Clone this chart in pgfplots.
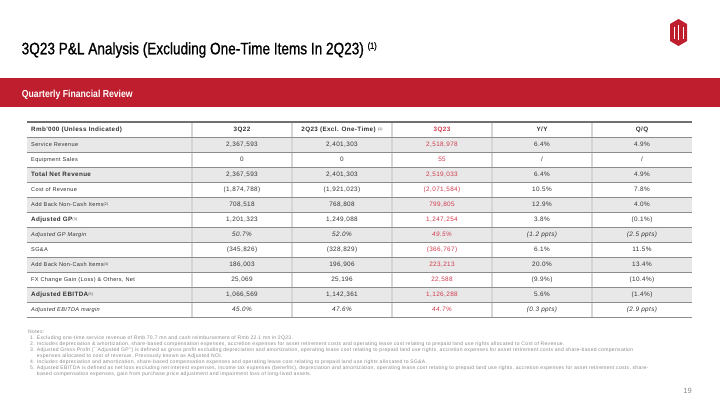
\documentclass[border=0pt]{standalone}
\usepackage{fontspec}
\setmainfont{Liberation Sans}
\newfontfamily\titlefont[FakeStretch=0.82,FakeBold=1.0]{Liberation Sans}
\newfontfamily\bandfont[FakeStretch=0.85]{Liberation Sans}
\newfontfamily\tabfont[LetterSpace=6]{Liberation Sans}
\newfontfamily\notefont[LetterSpace=6]{Liberation Sans}
\usepackage{pgfplots}
\pgfplotsset{compat=1.18}
\definecolor{gdsred}{HTML}{BE1E2D}
\definecolor{valred}{HTML}{D03A4C}
\definecolor{rowgrey}{HTML}{E8E8E8}
\definecolor{linegrey}{HTML}{8C8C8C}
\definecolor{vgrey}{HTML}{D6D6D6}
\definecolor{txt}{HTML}{333333}
\definecolor{notegrey}{HTML}{8A8A8A}
\newcommand{\tabsz}{\tabfont\fontsize{5.6bp}{6.5bp}\selectfont}
\newcommand{\bsz}{\tabfont\bfseries\fontsize{6.3bp}{7bp}\selectfont}
\newcommand{\valsz}{\tabfont\fontsize{6.4bp}{7bp}\selectfont}
\newcommand{\notesz}{\notefont\fontsize{5.05bp}{6bp}\selectfont}
\newcommand{\sups}[1]{\raisebox{1.3bp}{\fontsize{3.6bp}{4bp}\selectfont\mdseries(#1)}}
\begin{document}
\begin{tikzpicture}
\begin{axis}[
  width=720bp, height=405bp, scale only axis,
  xmin=0, xmax=720, ymin=0, ymax=405, y dir=reverse,
  hide axis, clip=false,
  nodes near coords align={anchor=base},
  every node near coord/.append style={font=\valsz, text=txt, inner sep=0pt},
]
\fill[white] (axis cs:0,0) rectangle (axis cs:720,405);
% title
\node[anchor=base west, inner sep=0pt, text=black] at (axis cs:21.5,54.3)
  {\titlefont\fontsize{16.6bp}{18bp}\selectfont 3Q23 P\&L Analysis (Excluding One-Time Items In 2Q23)\ \raisebox{5.5bp}{\fontsize{9bp}{9bp}\selectfont (1)}};
% logo
\fill[gdsred] (axis cs:678.5,19) -- (axis cs:687,24) -- (axis cs:687,41) -- (axis cs:678.5,46) -- (axis cs:670,41) -- (axis cs:670,24) -- cycle;
\draw[white, line width=1bp] (axis cs:674,27) -- (axis cs:674,39) (axis cs:678.5,25) -- (axis cs:678.5,40) (axis cs:683,27) -- (axis cs:683,39);
% band
\fill[gdsred] (axis cs:0,78) rectangle (axis cs:720,106.5);
\node[anchor=base west, inner sep=0pt, text=white] at (axis cs:21.7,97)
  {\bandfont\bfseries\fontsize{10.2bp}{12bp}\selectfont Quarterly Financial Review};
% table grey rows
\fill[rowgrey] (axis cs:27,137) rectangle (axis cs:692,152);
\fill[rowgrey] (axis cs:27,167) rectangle (axis cs:692,182);
\fill[rowgrey] (axis cs:27,197) rectangle (axis cs:692,212);
\fill[rowgrey] (axis cs:27,227) rectangle (axis cs:692,242);
\fill[rowgrey] (axis cs:27,257) rectangle (axis cs:692,272);
\fill[rowgrey] (axis cs:27,287) rectangle (axis cs:692,302);
% vertical separators
\draw[vgrey, line width=1.6bp] (axis cs:192,122) -- (axis cs:192,317);
\draw[vgrey, line width=1.6bp] (axis cs:292,122) -- (axis cs:292,317);
\draw[vgrey, line width=1.6bp] (axis cs:392,122) -- (axis cs:392,317);
\draw[vgrey, line width=1.6bp] (axis cs:492,122) -- (axis cs:492,317);
\draw[vgrey, line width=1.6bp] (axis cs:592,122) -- (axis cs:592,317);
% horizontal lines
\draw[linegrey!80!black, line width=1.2bp] (axis cs:27,122) -- (axis cs:692,122);
\draw[linegrey, line width=0.9bp] (axis cs:27,137) -- (axis cs:692,137);
\draw[linegrey, line width=0.9bp] (axis cs:27,152) -- (axis cs:692,152);
\draw[linegrey, line width=0.9bp] (axis cs:27,167) -- (axis cs:692,167);
\draw[linegrey, line width=0.9bp] (axis cs:27,182) -- (axis cs:692,182);
\draw[linegrey, line width=0.9bp] (axis cs:27,197) -- (axis cs:692,197);
\draw[linegrey, line width=0.9bp] (axis cs:27,212) -- (axis cs:692,212);
\draw[linegrey, line width=0.9bp] (axis cs:27,227) -- (axis cs:692,227);
\draw[linegrey, line width=0.9bp] (axis cs:27,242) -- (axis cs:692,242);
\draw[linegrey, line width=0.9bp] (axis cs:27,257) -- (axis cs:692,257);
\draw[linegrey, line width=0.9bp] (axis cs:27,272) -- (axis cs:692,272);
\draw[linegrey, line width=0.9bp] (axis cs:27,287) -- (axis cs:692,287);
\draw[linegrey, line width=0.9bp] (axis cs:27,302) -- (axis cs:692,302);
\draw[linegrey, line width=0.9bp] (axis cs:27,317) -- (axis cs:692,317);
% row labels
\begin{scope}[every node/.style={anchor=base west, inner sep=0pt, text=txt, font=\tabsz}]
\node at (axis cs:31,131.5) {\bsz Rmb'000 (Unless Indicated)};
\node at (axis cs:31,146.5) {Service Revenue};
\node at (axis cs:31,161.5) {Equipment Sales};
\node at (axis cs:31,176.5) {\bsz Total Net Revenue};
\node at (axis cs:31,191.5) {Cost of Revenue};
\node at (axis cs:31,206.5) {Add Back Non-Cash Items\sups{2}};
\node at (axis cs:31,221.5) {\bsz Adjusted GP\sups{3}};
\node at (axis cs:31,236.5) {\itshape Adjusted GP Margin};
\node at (axis cs:31,251.5) {SG\&A};
\node at (axis cs:31,266.5) {Add Back Non-Cash Items\sups{4}};
\node at (axis cs:31,281.5) {FX Change Gain (Loss) \& Others, Net};
\node at (axis cs:31,296.5) {\bsz Adjusted EBITDA\sups{5}};
\node at (axis cs:31,311.5) {\itshape Adjusted EBITDA margin};
\end{scope}
% 3Q22
\addplot[draw=none, mark=none, nodes near coords, point meta=explicit symbolic] coordinates {
(242,131.5) [\bsz 3Q22]
(242,146.5) [2,367,593]
(242,161.5) [0]
(242,176.5) [2,367,593]
(242,191.5) [(1,874,788)]
(242,206.5) [708,518]
(242,221.5) [1,201,323]
(242,236.5) [\itshape 50.7\%]
(242,251.5) [(345,826)]
(242,266.5) [186,003]
(242,281.5) [25,069]
(242,296.5) [1,066,569]
(242,311.5) [\itshape 45.0\%]
};
% 2Q23 excl one-time
\addplot[draw=none, mark=none, nodes near coords, point meta=explicit symbolic] coordinates {
(342,131.5) [\bsz 2Q23 (Excl. One-Time) \sups{1}]
(342,146.5) [2,401,303]
(342,161.5) [0]
(342,176.5) [2,401,303]
(342,191.5) [(1,921,023)]
(342,206.5) [768,808]
(342,221.5) [1,249,088]
(342,236.5) [\itshape 52.0\%]
(342,251.5) [(328,829)]
(342,266.5) [196,906]
(342,281.5) [25,196]
(342,296.5) [1,142,361]
(342,311.5) [\itshape 47.6\%]
};
% 3Q23
\addplot[draw=none, mark=none, nodes near coords, point meta=explicit symbolic,
  every node near coord/.append style={text=valred}] coordinates {
(442,131.5) [\bsz 3Q23]
(442,146.5) [2,518,978]
(442,161.5) [55]
(442,176.5) [2,519,033]
(442,191.5) [(2,071,584)]
(442,206.5) [799,805]
(442,221.5) [1,247,254]
(442,236.5) [\itshape 49.5\%]
(442,251.5) [(366,767)]
(442,266.5) [223,213]
(442,281.5) [22,588]
(442,296.5) [1,126,288]
(442,311.5) [\itshape 44.7\%]
};
% Y/Y
\addplot[draw=none, mark=none, nodes near coords, point meta=explicit symbolic] coordinates {
(542,131.5) [\bsz Y/Y]
(542,146.5) [6.4\%]
(542,161.5) [/]
(542,176.5) [6.4\%]
(542,191.5) [10.5\%]
(542,206.5) [12.9\%]
(542,221.5) [3.8\%]
(542,236.5) [\itshape (1.2 ppts)]
(542,251.5) [6.1\%]
(542,266.5) [20.0\%]
(542,281.5) [(9.9\%)]
(542,296.5) [5.6\%]
(542,311.5) [\itshape (0.3 ppts)]
};
% Q/Q
\addplot[draw=none, mark=none, nodes near coords, point meta=explicit symbolic] coordinates {
(642,131.5) [\bsz Q/Q]
(642,146.5) [4.9\%]
(642,161.5) [/]
(642,176.5) [4.9\%]
(642,191.5) [7.8\%]
(642,206.5) [4.0\%]
(642,221.5) [(0.1\%)]
(642,236.5) [\itshape (2.5 ppts)]
(642,251.5) [11.5\%]
(642,266.5) [13.4\%]
(642,281.5) [(10.4\%)]
(642,296.5) [(1.4\%)]
(642,311.5) [\itshape (2.9 ppts)]
};
% notes
\begin{scope}[every node/.style={anchor=base west, inner sep=0pt, text=notegrey, font=\notesz}]
\node at (axis cs:28,333) {Notes:};
\node at (axis cs:30,339.5) {1.};
\node at (axis cs:36.7,339.5) {Excluding one-time service revenue of Rmb 70.7 mn and cash reimbursement of Rmb 22.1 mn in 2Q23.};
\node at (axis cs:30,345.6) {2.};
\node at (axis cs:36.7,345.6) {Includes depreciation \& amortization, share-based compensation expenses, accretion expenses for asset retirement costs and operating lease cost relating to prepaid land use rights allocated to Cost of Revenue.};
\node at (axis cs:30,351.7) {3.};
\node at (axis cs:36.7,351.7) {Adjusted Gross Profit (``Adjusted GP'') is defined as gross profit excluding depreciation and amortization, operating lease cost relating to prepaid land use rights, accretion expenses for asset retirement costs and share-based compensation};
\node at (axis cs:36.7,357.6) {expenses allocated to cost of revenue. Previously known as Adjusted NOI.};
\node at (axis cs:30,363.6) {4.};
\node at (axis cs:36.7,363.6) {Includes depreciation and amortization, share-based compensation expenses and operating lease cost relating to prepaid land use rights allocated to SG\&A.};
\node at (axis cs:30,369.7) {5.};
\node at (axis cs:36.7,369.7) {Adjusted EBITDA is defined as net loss excluding net interest expenses, income tax expenses (benefits), depreciation and amortization, operating lease cost relating to prepaid land use rights, accretion expenses for asset retirement costs, share-};
\node at (axis cs:36.7,375.8) {based compensation expenses, gain from purchase price adjustment and impairment loss of long-lived assets.};
\end{scope}
% page number
\node[anchor=base east, inner sep=0pt, text=notegrey, font=\fontsize{7.5bp}{9bp}\selectfont] at (axis cs:692,393) {19};
\end{axis}
\end{tikzpicture}
\end{document}
